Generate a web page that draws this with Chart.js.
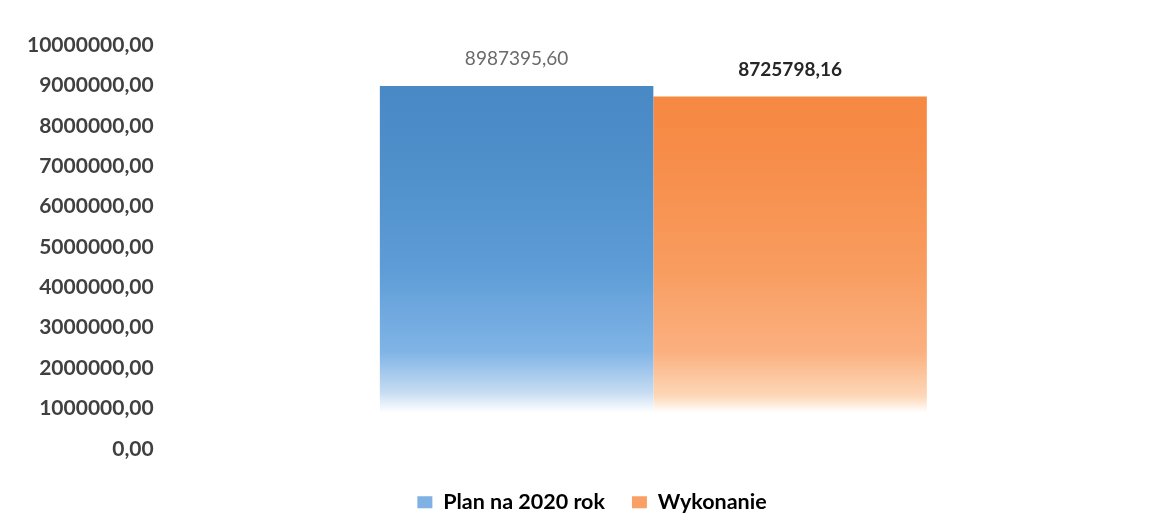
<!DOCTYPE html>
<html>
<head>
<meta charset="utf-8">
<script src="https://cdn.jsdelivr.net/npm/chart.js@4"></script>
<style>
    html, body { margin: 0; padding: 0; background: #ffffff; }
    #wrap { width: 1150px; height: 531px; }
</style>
</head>
<body>
<div id="wrap"><canvas id="chart"></canvas></div>
<script>
const categories = [""]
const seriesNames = ["Plan na 2020 rok", "Wykonanie"]
const planValues = [8987395.60]
const wykonanieValues = [8725798.16]
const yTicks = [0, 1000000, 2000000, 3000000, 4000000, 5000000, 6000000, 7000000, 8000000, 9000000, 10000000]

const fmt = (v) => Number(v).toFixed(2).replace(".", ",")

// gradient fading to white near the bottom, like the original
const makeGradient = (stops) => (context) => {
    const chart = context.chart
    const area = chart.chartArea
    if (!area) return stops[0][1]
    const g = chart.ctx.createLinearGradient(0, area.top, 0, area.bottom)
    stops.forEach(s => g.addColorStop(s[0], s[1]))
    return g
}

const blueStops = [
    [0.0, "#4585c2"], [0.3, "#4f8fca"], [0.55, "#5d9cd6"], [0.76, "#80b4e6"],
    [0.86, "#c6dcf2"], [0.91, "#ffffff"], [1.0, "#ffffff"]
]
const orangeStops = [
    [0.0, "#f5843b"], [0.3, "#f78e4b"], [0.55, "#f89c5f"], [0.76, "#fbb080"],
    [0.87, "#fdd8b8"], [0.91, "#ffffff"], [1.0, "#ffffff"]
]

const valueLabels = {
    id: "valueLabels",
    afterDatasetsDraw(chart) {
        const ctx = chart.ctx
        const colors = ["#6b6b6b", "#262626"]
        const weights = ["normal", "bold"]
        chart.data.datasets.forEach((ds, i) => {
            const meta = chart.getDatasetMeta(i)
            meta.data.forEach((bar, j) => {
                ctx.save()
                ctx.font = `${weights[i]} 19px Lato`
                ctx.fillStyle = colors[i]
                ctx.textAlign = "center"
                ctx.textBaseline = "middle"
                ctx.fillText(fmt(ds.data[j]), bar.x, bar.y - 27)
                ctx.restore()
            })
        })
    }
}

// the legend sits a bit right of centre in the original
const shiftLegend = {
    id: "shiftLegend",
    afterLayout(chart) {
        chart.legend.left += 15
        chart.legend.right += 15
    }
}

document.addEventListener("DOMContentLoaded", () => {

    Chart.defaults.font.family = "Lato"
    Chart.defaults.color = "#404040"

    new Chart(document.getElementById("chart"), {
        type: "bar",
        data: {
            labels: categories,
            datasets: [
                {
                    label: seriesNames[0],
                    data: planValues,
                    backgroundColor: makeGradient(blueStops)
                },
                {
                    label: seriesNames[1],
                    data: wykonanieValues,
                    backgroundColor: makeGradient(orangeStops)
                }
            ]
        },
        options: {
            responsive: true,
            maintainAspectRatio: false,
            animation: false,
            layout: { padding: { left: 14, right: 10, top: 45, bottom: 8 } },
            datasets: { bar: { categoryPercentage: 0.562, barPercentage: 1.0 } },
            scales: {
                x: {
                    display: true,
                    grid: { display: false, drawTicks: false },
                    border: { display: false },
                    ticks: { display: false },
                    // empty title only used as spacing above the legend
                    title: { display: true, text: " ", font: { size: 13 }, padding: { top: 0, bottom: 0 } }
                },
                y: {
                    min: 0,
                    max: 10000000,
                    afterBuildTicks: (axis) => { axis.ticks = yTicks.map(v => ({ value: v })) },
                    grid: { display: false, drawTicks: false },
                    border: { display: false },
                    ticks: {
                        padding: 13,
                        color: "#404040",
                        font: { size: 21, weight: "bold" },
                        callback: (v) => fmt(v)
                    }
                }
            },
            plugins: {
                legend: {
                    position: "bottom",
                    labels: {
                        boxWidth: 15,
                        boxHeight: 12,
                        padding: 27,
                        color: "#262626",
                        font: { size: 21.5, weight: "bold" },
                        generateLabels: (chart) => chart.data.datasets.map((ds, i) => ({
                            text: ds.label,
                            fillStyle: i === 0 ? "#7fb1e4" : "#f8a066",
                            strokeStyle: "rgba(0,0,0,0)",
                            lineWidth: 0,
                            datasetIndex: i
                        }))
                    }
                },
                tooltip: { enabled: false }
            }
        },
        plugins: [valueLabels, shiftLegend]
    })
})
</script>
</body>
</html>
